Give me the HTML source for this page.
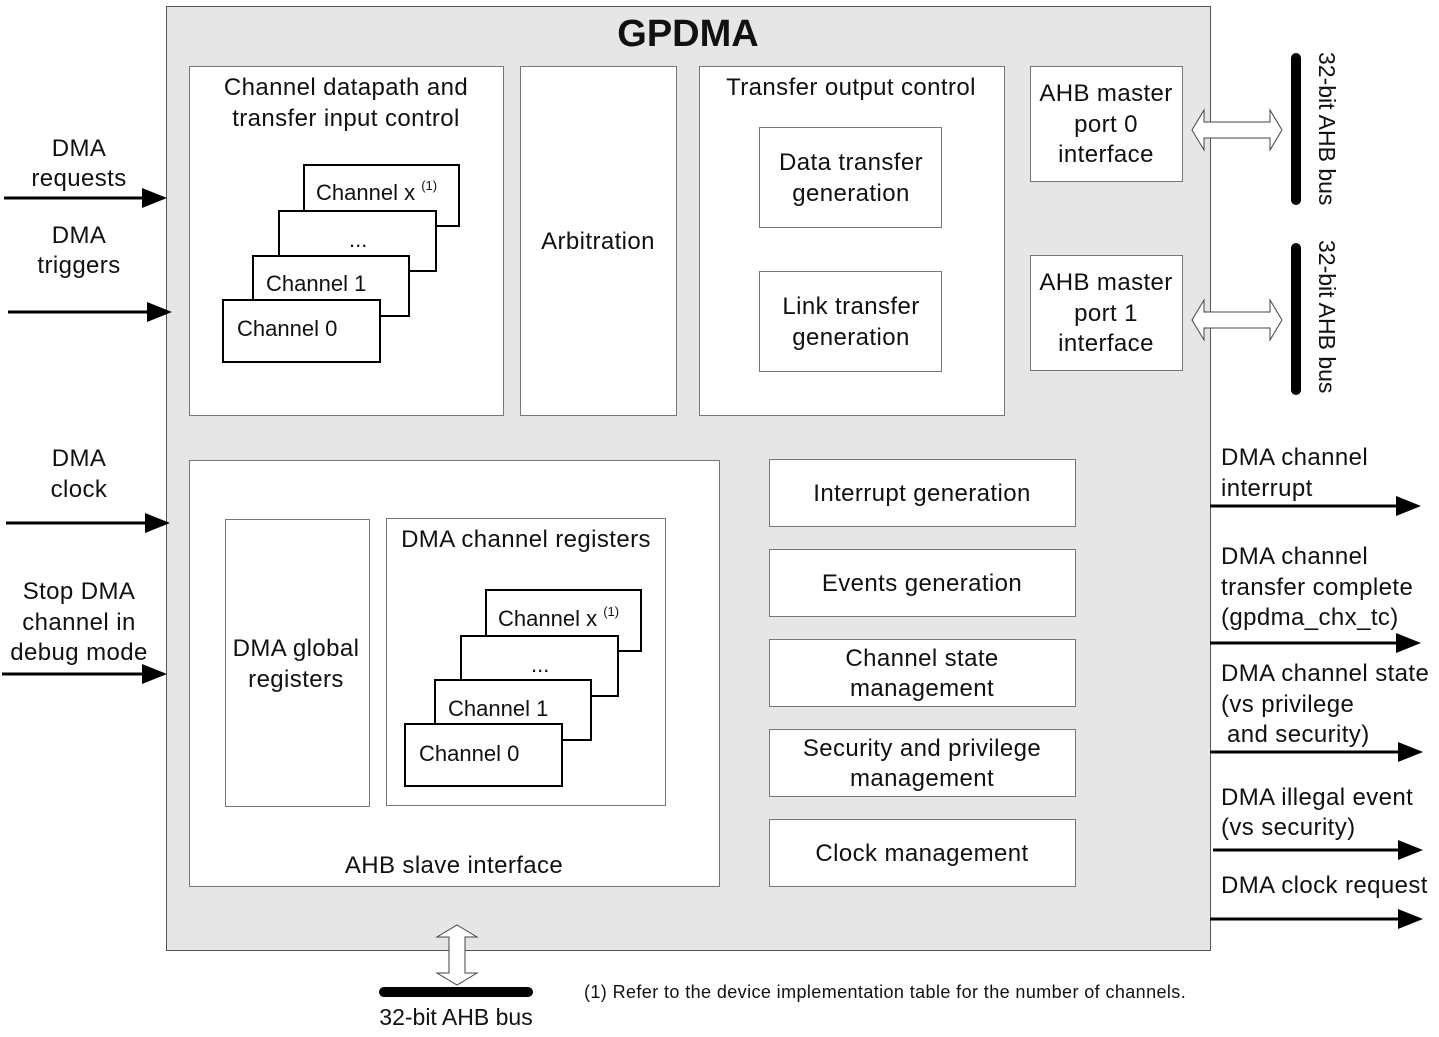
<!DOCTYPE html>
<html><head><meta charset="utf-8"><style>
body{margin:0;background:#fff}
svg text{font-family:"Liberation Sans",sans-serif;fill:#111}
</style></head><body>
<svg width="1439" height="1032" viewBox="0 0 1439 1032" xmlns="http://www.w3.org/2000/svg">
<rect x="166.5" y="6.5" width="1044" height="944" fill="#e6e6e6" stroke="#555" stroke-width="1"/>
<text x="688" y="46" font-size="38" font-weight="bold" text-anchor="middle">GPDMA</text>

<g fill="#fff" stroke="#777" stroke-width="1">
<rect x="189.5" y="66.5" width="314" height="349"/>
<rect x="520.5" y="66.5" width="156" height="349"/>
<rect x="699.5" y="66.5" width="305" height="349"/>
<rect x="759.5" y="127.5" width="182" height="100"/>
<rect x="759.5" y="271.5" width="182" height="100"/>
<rect x="1030.5" y="66.5" width="152" height="115"/>
<rect x="1030.5" y="255.5" width="152" height="115"/>
<rect x="189.5" y="460.5" width="530" height="426"/>
<rect x="225.5" y="519.5" width="144" height="287"/>
<rect x="386.5" y="518.5" width="279" height="287"/>
<rect x="769.5" y="459.5" width="306" height="67"/>
<rect x="769.5" y="549.5" width="306" height="67"/>
<rect x="769.5" y="639.5" width="306" height="67"/>
<rect x="769.5" y="729.5" width="306" height="67"/>
<rect x="769.5" y="819.5" width="306" height="67"/>
</g>

<g font-size="24" letter-spacing="0.4" text-anchor="middle">
<text x="346" y="95">Channel datapath and</text>
<text x="346" y="126">transfer input control</text>
<text x="598" y="249">Arbitration</text>
<text x="851" y="95">Transfer output control</text>
<text x="851" y="170">Data transfer</text>
<text x="851" y="201">generation</text>
<text x="851" y="314">Link transfer</text>
<text x="851" y="345">generation</text>
<text x="1106" y="101">AHB master</text>
<text x="1106" y="132">port 0</text>
<text x="1106" y="162">interface</text>
<text x="1106" y="290">AHB master</text>
<text x="1106" y="321">port 1</text>
<text x="1106" y="351">interface</text>
<text x="296" y="656">DMA global</text>
<text x="296" y="687">registers</text>
<text x="526" y="547">DMA channel registers</text>
<text x="454" y="873">AHB slave interface</text>
<text x="922" y="501">Interrupt generation</text>
<text x="922" y="591">Events generation</text>
<text x="922" y="666">Channel state</text>
<text x="922" y="696">management</text>
<text x="922" y="756">Security and privilege</text>
<text x="922" y="786">management</text>
<text x="922" y="861">Clock management</text>
<text x="79" y="156">DMA</text>
<text x="79" y="186">requests</text>
<text x="79" y="243">DMA</text>
<text x="79" y="273">triggers</text>
<text x="79" y="466">DMA</text>
<text x="79" y="497">clock</text>
<text x="79" y="599">Stop DMA</text>
<text x="79" y="630">channel in</text>
<text x="79" y="660">debug mode</text>
</g>

<g fill="#fff" stroke="#000" stroke-width="2">
<rect x="304" y="165" width="155" height="61"/>
<rect x="279" y="211" width="157" height="60"/>
<rect x="253" y="256" width="156" height="60"/>
<rect x="223" y="300" width="157" height="62"/>
<rect x="486" y="590" width="155" height="61"/>
<rect x="461" y="636" width="157" height="60"/>
<rect x="435" y="680" width="156" height="60"/>
<rect x="405" y="724" width="157" height="62"/>
</g>
<g font-size="22">
<text x="316" y="200">Channel x <tspan font-size="13" dy="-10">(1)</tspan></text>
<text x="349" y="247">...</text>
<text x="266" y="291">Channel 1</text>
<text x="237" y="336">Channel 0</text>
<text x="498" y="626">Channel x <tspan font-size="13" dy="-10">(1)</tspan></text>
<text x="531" y="672">...</text>
<text x="448" y="716">Channel 1</text>
<text x="419" y="761">Channel 0</text>
</g>

<g stroke="#000" stroke-width="3">
<line x1="4" y1="198" x2="145" y2="198"/>
<line x1="8" y1="312" x2="150" y2="312"/>
<line x1="6" y1="523" x2="148" y2="523"/>
<line x1="2" y1="674" x2="145" y2="674"/>
<line x1="1210" y1="506" x2="1400" y2="506"/>
<line x1="1210" y1="643" x2="1400" y2="643"/>
<line x1="1210" y1="752" x2="1402" y2="752"/>
<line x1="1213" y1="850" x2="1402" y2="850"/>
<line x1="1210" y1="919" x2="1402" y2="919"/>
</g>
<g fill="#000">
<polygon points="142,188 167,198 142,208"/>
<polygon points="147,302 172,312 147,322"/>
<polygon points="145,513 170,523 145,533"/>
<polygon points="142,664 167,674 142,684"/>
<polygon points="1396,496 1421,506 1396,516"/>
<polygon points="1396,633 1421,643 1396,653"/>
<polygon points="1398,742 1423,752 1398,762"/>
<polygon points="1398,840 1423,850 1398,860"/>
<polygon points="1398,909 1423,919 1398,929"/>
</g>
<g font-size="24" letter-spacing="0.4">
<text x="1221" y="465">DMA channel</text>
<text x="1221" y="496">interrupt</text>
<text x="1221" y="564">DMA channel</text>
<text x="1221" y="595">transfer complete</text>
<text x="1221" y="625">(gpdma_chx_tc)</text>
<text x="1221" y="681">DMA channel state</text>
<text x="1221" y="712">(vs privilege</text>
<text x="1227" y="742">and security)</text>
<text x="1221" y="805">DMA illegal event</text>
<text x="1221" y="835">(vs security)</text>
<text x="1221" y="893">DMA clock request</text>
</g>

<g stroke="#000" stroke-width="10" stroke-linecap="round">
<line x1="1296" y1="58" x2="1296" y2="200"/>
<line x1="1296" y1="248" x2="1296" y2="390"/>
<line x1="384" y1="992" x2="528" y2="992"/>
</g>
<g fill="#fff" stroke="#444" stroke-width="1">
<polygon points="1192,130 1204,110 1204,122 1270,122 1270,110 1282,130 1270,150 1270,138 1204,138 1204,150"/>
<polygon points="1192,320 1204,300 1204,312 1270,312 1270,300 1282,320 1270,340 1270,328 1204,328 1204,340"/>
<polygon points="457,925 477,937 465,937 465,973 477,973 457,985 437,973 449,973 449,937 437,937"/>
</g>
<g font-size="23">
<text transform="translate(1319,52) rotate(90)">32-bit AHB bus</text>
<text transform="translate(1319,240) rotate(90)">32-bit AHB bus</text>
<text x="456" y="1025" text-anchor="middle">32-bit AHB bus</text>
</g>
<text x="584" y="998" font-size="18" letter-spacing="0.4">(1) Refer to the device implementation table for the number of channels.</text>
</svg>
</body></html>
